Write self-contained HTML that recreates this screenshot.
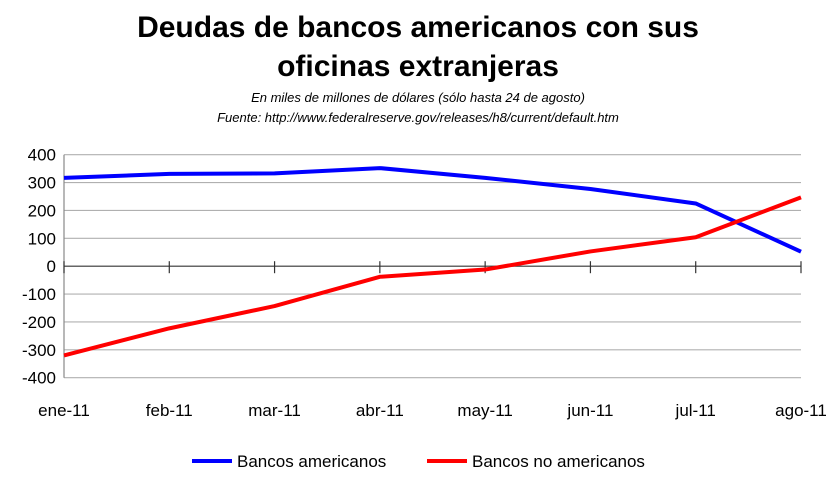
<!DOCTYPE html>
<html><head><meta charset="utf-8"><style>
body{margin:0;background:#fff;width:837px;height:478px;overflow:hidden;font-family:"Liberation Sans",sans-serif}
</style></head><body>
<svg width="837" height="478" font-family="Liberation Sans, sans-serif">
<text x="418" y="37" text-anchor="middle" font-size="30" font-weight="bold">Deudas de bancos americanos con sus</text>
<text x="418" y="76" text-anchor="middle" font-size="30" font-weight="bold">oficinas extranjeras</text>
<text x="418" y="102" text-anchor="middle" font-size="13" font-style="italic">En miles de millones de dólares (sólo hasta 24 de agosto)</text>
<text x="418" y="122" text-anchor="middle" font-size="13" font-style="italic">Fuente: http://www.federalreserve.gov/releases/h8/current/default.htm</text>
<g id="grid"></g><g id="axes"></g><g id="series"></g>
<g>
<line x1="192" y1="461" x2="232" y2="461" stroke="#0000ff" stroke-width="4"/>
<text x="237" y="467" font-size="17">Bancos americanos</text>
<line x1="427" y1="461" x2="467" y2="461" stroke="#ff0000" stroke-width="4"/>
<text x="472" y="467" font-size="17">Bancos no americanos</text>
</g>
</svg>
<script>
const categories=["ene-11","feb-11","mar-11","abr-11","may-11","jun-11","jul-11","ago-11"];
const americanos=[317,331,333,352,317,277,225,52];
const noAmericanos=[-320,-223,-143,-38,-12,53,104,247];
const yTicks=[400,300,200,100,0,-100,-200,-300,-400];
const NS="http://www.w3.org/2000/svg";
const x0=64,x1=801,yTop=154.7,yBot=377.7,vMax=400,vMin=-400;
const xs=i=>x0+i*(x1-x0)/(categories.length-1);
const ys=v=>yTop+(vMax-v)/(vMax-vMin)*(yBot-yTop);
function mk(tag,attrs,parent){const e=document.createElementNS(NS,tag);for(const k in attrs)e.setAttribute(k,attrs[k]);document.getElementById(parent).appendChild(e);return e;}
yTicks.forEach(v=>{
 if(v!==0){const g=mk('line',{x1:x0,x2:x1,y1:ys(v),y2:ys(v),stroke:'#b0b0b0','stroke-width':1.2},'grid');
 
 }
 const t=mk('text',{x:56,y:ys(v)+6,'text-anchor':'end','font-size':17},'axes');t.textContent=v;
 
 
});
const ya=mk('line',{x1:x0,x2:x0,y1:yTop,y2:yBot,stroke:'#888','stroke-width':1.2},'axes');


const xa=mk('line',{x1:x0,x2:x1,y1:ys(0),y2:ys(0),stroke:'#333','stroke-width':1.2},'axes');


categories.forEach((c,i)=>{
 const tk=mk('line',{x1:xs(i),x2:xs(i),y1:ys(0)-5,y2:ys(0)+7,stroke:'#333','stroke-width':1.2},'axes');
 
 
 const t=mk('text',{x:xs(i),y:416,'text-anchor':'middle','font-size':17},'axes');t.textContent=c;
 
 
});
function line(vals,color,name){
 const p=mk('polyline',{points:vals.map((v,i)=>xs(i)+','+ys(v)).join(' '),fill:'none',stroke:color,'stroke-width':4,'stroke-linejoin':'round'},'series');
 
 
}
line(americanos,'#0000ff','series-bancos-americanos');
line(noAmericanos,'#ff0000','series-bancos-no-americanos');
</script>
</body></html>
